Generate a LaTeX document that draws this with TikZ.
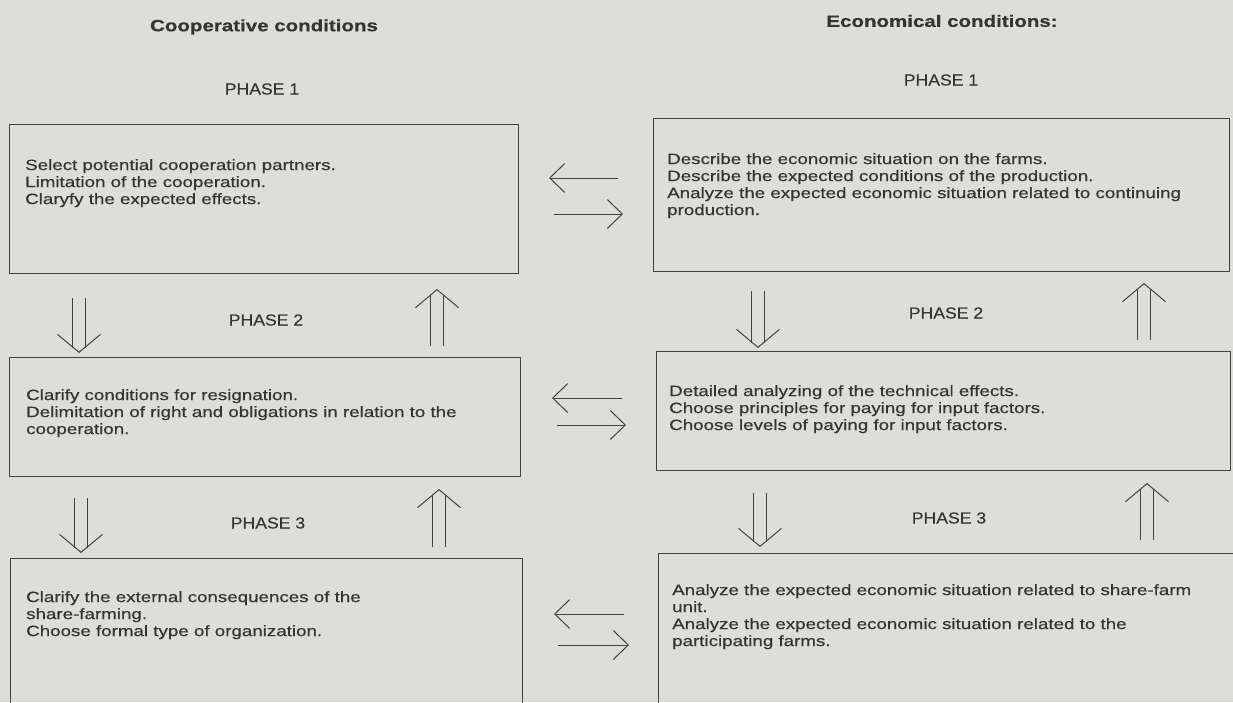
\documentclass[tikz,border=0pt]{standalone}
\usepackage{fontspec}
\setmainfont{Liberation Sans}[FakeStretch=1.25,FakeBold=0.5]
\newfontfamily\phasefont{Liberation Sans}[FakeStretch=1.1,FakeBold=0.3]
\usetikzlibrary{positioning,arrows.meta}

\definecolor{paper}{RGB}{222,222,217}
\definecolor{ink}{RGB}{66,66,66}
\definecolor{textink}{RGB}{52,52,52}

\tikzset{
    box/.style={draw=ink, line width=1pt, anchor=north west, inner sep=0pt},
    body/.style={align=left, inner sep=0pt, text=textink, font=\fontsize{15}{17}\selectfont},
    head/.style={text=textink, font=\bfseries\fontsize{16.4}{18}\selectfont},
    phase/.style={text=textink, font=\phasefont\fontsize{16}{18}\selectfont},
    harrow/.style={draw=ink, line width=1pt, -{Straight Barb[length=15pt,width=29pt]}},
    dbl/.style={draw=ink, line width=1pt, double=paper, double distance=12.5pt, shorten >=5.5pt},
    dblhead/.style={draw=paper, line width=0.2pt, -{Straight Barb[length=18pt,width=43pt,line width=1pt,color=ink]}}
}

\begin{document}
\begin{tikzpicture}[x=1pt,y=-1pt]
    \fill[paper] (0,0) rectangle (1233,702);
    \useasboundingbox (0,0) rectangle (1233,702);
    \clip (0,0) rectangle (1233,702);

    % headings
    \node[head] (coophead) at (264,27) {Cooperative conditions};
    \node[head] (econhead) at (942,21) {Economical conditions:};

    % phase labels
    \node[phase] (coopph1) at (262,89) {PHASE 1};
    \node[phase] (econph1) at (941,80) {PHASE 1};
    \node[phase] (coopph2) at (266,320) {PHASE 2};
    \node[phase] (econph2) at (946,313) {PHASE 2};
    \node[phase] (coopph3) at (268,523) {PHASE 3};
    \node[phase] (econph3) at (949,518) {PHASE 3};

    % boxes
    \node[box, minimum width=509pt, minimum height=149pt] (coop1) at (9,124) {};
    \node[box, minimum width=576pt, minimum height=153pt] (econ1) at (653,118) {};
    \node[box, minimum width=511pt, minimum height=119pt] (coop2) at (9,357) {};
    \node[box, minimum width=574pt, minimum height=119pt] (econ2) at (656,351) {};
    \node[box, minimum width=512pt, minimum height=170pt] (coop3) at (10,558) {};
    \node[box, minimum width=578pt, minimum height=175pt] (econ3) at (658,553) {};

    % box texts
    \node[body, below right=35pt and 16pt of coop1.north west] (coop1txt)
        {Select potential cooperation partners.\\
         Limitation of the cooperation.\\
         Claryfy the expected effects.};
    \node[body, below right=35pt and 14pt of econ1.north west] (econ1txt)
        {Describe the economic situation on the farms.\\
         Describe the expected conditions of the production.\\
         Analyze the expected economic situation related to continuing\\
         production.};
    \node[body, below right=32pt and 17pt of coop2.north west] (coop2txt)
        {Clarify conditions for resignation.\\
         Delimitation of right and obligations in relation to the\\
         cooperation.};
    \node[body, below right=34pt and 13pt of econ2.north west] (econ2txt)
        {Detailed analyzing of the technical effects.\\
         Choose principles for paying for input factors.\\
         Choose levels of paying for input factors.};
    \node[body, below right=33pt and 16pt of coop3.north west] (coop3txt)
        {Clarify the external consequences of the\\
         share-farming.\\
         Choose formal type of organization.};
    \node[body, below right=31pt and 14pt of econ3.north west] (econ3txt)
        {Analyze the expected economic situation related to share-farm\\
         unit.\\
         Analyze the expected economic situation related to the\\
         participating farms.};

    % arrows between the columns
    \draw[harrow] ([xshift=-35pt,yshift=-60pt]econ1.north west) -- ([xshift=30pt,yshift=-54pt]coop1.north east);
    \draw[harrow] ([xshift=35pt,yshift=-90pt]coop1.north east) -- ([xshift=-30pt,yshift=-96pt]econ1.north west);
    \draw[harrow] ([xshift=-34pt,yshift=-47pt]econ2.north west) -- ([xshift=31pt,yshift=-41pt]coop2.north east);
    \draw[harrow] ([xshift=36pt,yshift=-68pt]coop2.north east) -- ([xshift=-30pt,yshift=-74pt]econ2.north west);
    \draw[harrow] ([xshift=-34pt,yshift=-61pt]econ3.north west) -- ([xshift=31pt,yshift=-56pt]coop3.north east);
    \draw[harrow] ([xshift=35pt,yshift=-87pt]coop3.north east) -- ([xshift=-29pt,yshift=-92pt]econ3.north west);

    % ends of the double arrows
    \coordinate (cd1) at ([xshift=70pt,yshift=-24pt]coop1.south west);
    \coordinate (cd1t) at ([xshift=70pt,yshift=4pt]coop2.north west);
    \coordinate (cu1) at ([xshift=428pt,yshift=11pt]coop2.north west);
    \coordinate (cu1t) at ([xshift=428pt,yshift=-15pt]coop1.south west);
    \coordinate (cd2) at ([xshift=72pt,yshift=-21pt]coop2.south west);
    \coordinate (cd2t) at ([xshift=71pt,yshift=5pt]coop3.north west);
    \coordinate (cu2) at ([xshift=429pt,yshift=11pt]coop3.north west);
    \coordinate (cu2t) at ([xshift=430pt,yshift=-12pt]coop2.south west);
    \coordinate (ed1) at ([xshift=105pt,yshift=-19pt]econ1.south west);
    \coordinate (ed1t) at ([xshift=102pt,yshift=3pt]econ2.north west);
    \coordinate (eu1) at ([xshift=488pt,yshift=11pt]econ2.north west);
    \coordinate (eu1t) at ([xshift=491pt,yshift=-11pt]econ1.south west);
    \coordinate (ed2) at ([xshift=104pt,yshift=-22pt]econ2.south west);
    \coordinate (ed2t) at ([xshift=102pt,yshift=6pt]econ3.north west);
    \coordinate (eu2) at ([xshift=489pt,yshift=13pt]econ3.north west);
    \coordinate (eu2t) at ([xshift=491pt,yshift=-12pt]econ2.south west);

    % double arrows between the phases
    \foreach \s in {cd1,cu1,cd2,cu2,ed1,eu1,ed2,eu2} {
        \draw[dbl] (\s) -- (\s t);
        \draw[dblhead] (\s) -- (\s t);
    }
\end{tikzpicture}
\end{document}
